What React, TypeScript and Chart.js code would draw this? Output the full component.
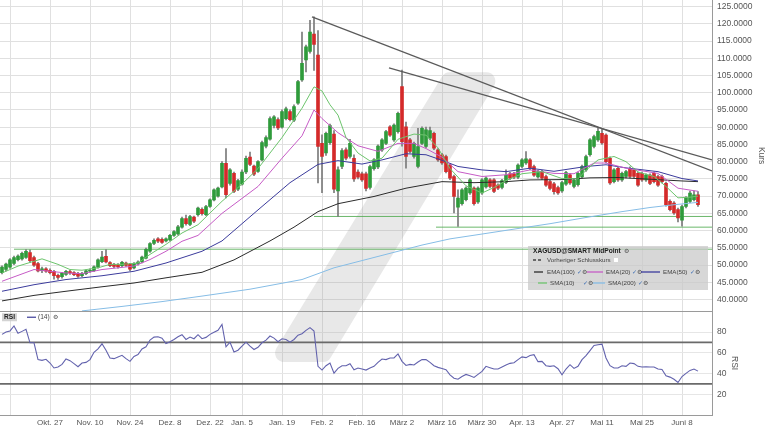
import React, { useEffect, useRef } from "react";
import { Chart, registerables } from "chart.js";

Chart.register(...registerables);

// ---- Candles (trading-day index 0 = 9 Oct) ----
const OPEN = [
  47.8, 48.7, 49.4, 50.5, 51.6, 51.8, 52.2, 53.6, 52.2, 50.4,
  48.4, 48.9, 48.5, 48.2, 47.0, 46.6, 47.3, 48.1, 47.8, 47.6,
  46.9, 47.5, 48.2, 48.4, 49.4, 51.0, 52.5, 50.7, 50.2, 50.1,
  49.8, 50.6, 50.2, 49.2, 50.3, 50.9, 52.0, 54.0, 56.3, 57.6,
  57.5, 57.0, 57.3, 58.6, 59.0, 61.0, 63.5, 61.8, 63.9, 64.6,
  66.2, 64.6, 67.0, 68.9, 70.0, 72.7, 79.5, 73.7, 76.6, 72.0,
  73.5, 77.0, 81.3, 78.7, 77.2, 80.5, 84.5, 86.5, 90.5, 92.2,
  90.0, 92.5, 94.5, 92.0, 97.0, 103.7, 109.5, 112.0, 117.0, 110.9,
  85.3, 82.5, 85.5, 88.0, 71.5, 78.6, 83.4, 81.5, 81.0, 77.0,
  76.5, 76.5, 72.5, 78.0, 78.5, 83.4, 85.3, 90.1, 86.3, 88.7,
  101.8, 90.1, 86.3, 81.5, 78.6, 85.3, 84.4, 86.8, 88.2, 83.4,
  82.0, 81.5, 79.1, 75.7, 66.8, 67.8, 69.0, 70.9, 72.3, 68.3,
  70.9, 72.7, 74.7, 74.7, 73.2, 72.5, 74.0, 76.5, 76.5, 75.5,
  78.6, 79.6, 80.5, 78.6, 75.6, 77.1, 75.7, 74.2, 73.6, 72.5,
  71.5, 73.5, 76.2, 72.8, 73.3, 75.6, 77.6, 82.0, 84.4, 86.3,
  88.2, 87.7, 81.0, 74.2, 78.1, 74.7, 75.7, 78.1, 77.6, 76.6,
  76.6, 74.7, 76.1, 76.6, 75.7, 75.7, 73.7, 68.5, 68.0, 66.1,
  63.0, 67.0, 68.5, 69.0, 70.4,
];
const HIGH = [
  49.8, 50.6, 51.9, 52.6, 53.0, 53.8, 54.5, 54.4, 52.6, 50.8,
  49.4, 49.3, 48.9, 48.5, 47.4, 47.9, 48.5, 48.5, 48.1, 47.9,
  47.9, 48.6, 48.9, 49.8, 51.8, 54.0, 54.5, 51.0, 50.5, 50.4,
  51.1, 50.9, 50.5, 50.7, 51.2, 52.6, 54.9, 56.5, 57.6, 58.0,
  57.9, 57.9, 58.9, 60.0, 61.5, 63.9, 64.5, 64.4, 64.2, 66.8,
  66.6, 67.3, 69.2, 72.1, 72.6, 80.0, 83.8, 78.0, 77.0, 74.9,
  77.6, 81.6, 82.8, 79.0, 80.3, 86.0, 87.5, 93.0, 93.4, 92.7,
  95.0, 95.8, 95.0, 96.5, 103.6, 117.6, 113.8, 121.0, 122.0, 118.0,
  87.8, 88.6, 90.9, 89.0, 78.5, 83.8, 84.0, 86.5, 82.0, 77.6,
  77.0, 77.0, 79.0, 80.9, 84.9, 86.7, 89.1, 90.5, 91.0, 94.4,
  106.6, 91.5, 86.8, 85.7, 89.7, 90.1, 90.0, 90.0, 88.6, 83.8,
  82.4, 81.9, 79.5, 76.1, 71.8, 72.2, 72.7, 75.1, 72.7, 72.7,
  75.1, 75.6, 75.1, 75.1, 73.6, 74.9, 77.6, 76.9, 76.9, 79.4,
  80.9, 82.9, 80.9, 79.0, 77.5, 77.5, 76.1, 74.6, 74.0, 72.9,
  74.3, 77.2, 76.6, 75.0, 77.0, 79.0, 81.9, 86.7, 87.7, 89.7,
  89.5, 88.1, 81.4, 78.0, 78.5, 77.0, 77.5, 78.5, 78.0, 77.0,
  77.0, 76.5, 76.5, 77.0, 76.1, 76.1, 74.1, 68.9, 68.4, 66.5,
  67.4, 69.9, 71.5, 71.5, 71.3,
];
const LOW = [
  47.4, 48.3, 49.0, 50.1, 51.2, 51.4, 51.9, 50.8, 49.6, 48.0,
  47.8, 47.9, 47.4, 45.9, 45.8, 46.2, 47.0, 47.3, 46.9, 46.4,
  46.6, 47.2, 47.9, 48.1, 49.1, 50.7, 50.6, 49.5, 49.2, 49.1,
  49.5, 49.6, 48.4, 48.9, 50.0, 50.6, 51.8, 53.7, 55.9, 56.5,
  56.3, 56.7, 57.0, 58.3, 58.7, 60.7, 61.6, 61.4, 62.3, 64.2,
  64.5, 64.3, 66.7, 68.6, 69.7, 72.4, 69.5, 73.2, 71.0, 71.6,
  73.2, 76.5, 78.8, 75.9, 76.9, 80.2, 84.0, 86.2, 89.8, 89.3,
  89.7, 92.1, 91.8, 91.6, 96.6, 103.3, 106.0, 111.5, 106.5, 73.8,
  71.0, 81.8, 85.0, 71.0, 64.1, 78.0, 80.5, 81.0, 74.3, 75.0,
  74.3, 71.5, 72.0, 77.5, 78.0, 83.0, 84.9, 87.3, 85.9, 88.3,
  84.5, 78.1, 82.5, 81.0, 78.2, 84.9, 84.0, 86.4, 83.5, 80.1,
  79.2, 76.7, 74.8, 65.1, 61.2, 67.4, 68.6, 70.5, 67.4, 67.9,
  70.5, 72.3, 72.4, 71.0, 71.9, 72.1, 73.6, 74.8, 75.1, 75.1,
  78.2, 79.2, 77.7, 75.7, 75.2, 74.8, 72.8, 71.8, 70.6, 70.5,
  71.1, 73.1, 73.4, 72.4, 72.9, 75.2, 77.2, 81.6, 84.0, 85.9,
  85.0, 79.6, 73.4, 73.8, 74.3, 74.3, 75.3, 75.3, 75.3, 72.8,
  74.3, 74.3, 73.3, 73.8, 72.8, 73.8, 67.1, 65.7, 64.7, 62.5,
  61.3, 66.6, 68.1, 68.6, 67.0,
];
const CLOSE = [
  49.4, 50.3, 51.5, 52.2, 52.6, 53.4, 54.0, 51.3, 50.0, 48.3,
  48.9, 48.2, 47.8, 46.9, 46.4, 47.6, 48.2, 47.7, 47.2, 46.8,
  47.6, 48.3, 48.5, 49.5, 51.5, 52.3, 50.9, 49.8, 49.6, 49.5,
  50.8, 49.9, 48.8, 50.4, 50.9, 52.3, 54.6, 56.2, 57.2, 56.9,
  56.6, 57.6, 58.6, 59.7, 61.1, 63.5, 62.0, 64.1, 62.7, 66.5,
  64.9, 67.0, 68.9, 71.8, 72.3, 79.5, 70.4, 77.6, 71.4, 74.5,
  77.0, 81.0, 79.2, 76.4, 80.0, 85.5, 87.0, 92.5, 93.0, 89.8,
  94.5, 95.3, 92.2, 96.0, 103.2, 108.5, 113.3, 117.6, 114.0, 84.4,
  81.5, 88.2, 90.5, 72.0, 77.6, 83.2, 81.0, 85.3, 75.0, 75.5,
  74.7, 72.2, 78.6, 80.5, 84.5, 86.3, 88.7, 87.7, 90.6, 94.0,
  85.8, 81.5, 83.0, 85.3, 84.4, 89.7, 89.2, 89.0, 83.9, 80.5,
  79.6, 77.1, 75.2, 69.9, 69.4, 71.8, 72.3, 74.7, 67.8, 72.3,
  74.7, 75.2, 72.8, 71.4, 72.3, 74.5, 76.0, 75.2, 75.5, 79.0,
  80.5, 80.8, 78.1, 76.1, 77.1, 75.2, 73.2, 72.2, 71.3, 70.9,
  73.9, 76.8, 73.8, 74.6, 76.6, 78.6, 81.5, 86.3, 87.3, 88.8,
  85.4, 80.0, 73.8, 77.6, 74.7, 76.6, 77.1, 75.7, 75.7, 73.2,
  74.7, 76.1, 73.7, 74.2, 73.2, 74.2, 67.5, 66.1, 65.1, 63.7,
  67.0, 69.5, 70.9, 70.4, 67.5,
];

// ---- RSI(14) ----
const RSI14 = [
  77.7, 80.0, 81.0, 85.8, 78.7, 80.6, 82.6, 69.6, 69.6, 53.4,
  52.7, 53.7, 50.1, 45.3, 46.2, 48.8, 54.0, 52.4, 49.5, 46.5,
  50.1, 50.7, 53.4, 60.5, 63.7, 68.6, 62.4, 54.9, 54.3, 55.9,
  57.5, 54.3, 51.7, 56.5, 58.2, 63.7, 65.7, 72.2, 75.1, 75.4,
  74.1, 68.9, 70.6, 72.8, 75.4, 77.4, 72.8, 75.1, 73.5, 77.4,
  73.5, 74.8, 77.7, 79.7, 81.6, 87.4, 65.7, 70.2, 60.8, 62.4,
  66.3, 70.2, 66.3, 63.1, 65.3, 69.6, 72.2, 76.1, 74.1, 70.6,
  73.5, 72.8, 70.2, 72.8, 77.0, 78.4, 81.6, 84.2, 81.0, 46.9,
  43.3, 47.5, 50.1, 40.4, 44.9, 47.5, 47.5, 49.5, 43.6, 45.3,
  44.3, 43.3, 45.3, 46.9, 50.7, 54.0, 53.4, 55.0, 55.0, 58.9,
  51.7, 47.8, 48.8, 48.2, 51.1, 53.4, 53.4, 50.7, 47.5, 45.9,
  44.9, 43.6, 38.7, 35.5, 34.5, 37.1, 39.1, 37.8, 36.2, 39.1,
  42.0, 46.9, 45.6, 44.3, 44.3, 46.2, 48.2, 49.8, 50.4, 53.4,
  56.0, 55.3, 57.3, 58.2, 51.4, 51.7, 47.5, 46.9, 47.5, 44.6,
  38.7, 44.3, 48.5, 44.9, 46.9, 53.4, 57.3, 62.1, 67.0, 67.7,
  68.3, 55.0, 47.5, 45.3, 45.3, 47.5, 46.9, 50.1, 49.5, 46.9,
  46.2, 46.5, 46.2, 46.2, 44.3, 43.9, 37.8, 36.5, 34.5, 31.3,
  37.1, 40.1, 43.0, 44.3, 42.3,
];

// ---- Moving averages, read as [dayIndex, value] ----
const SMA10 = [
  [0, 47.7], [4, 49.7], [8, 51.1], [10, 51.8], [14, 50.2], [17, 48.7], [20, 48.5], [24, 49.2],
  [27, 50.2], [30, 50.2], [34, 50.6], [37, 53.1], [41, 56.0], [45, 59.3], [49, 61.7], [55, 68.5],
  [60, 73.5], [64, 78.0], [70, 87.0], [75, 95.5], [78, 101.7], [80, 100.5], [82, 96.5], [84, 93.5],
  [86, 87.0], [89, 82.5], [92, 80.2], [95, 81.0], [99, 86.5], [103, 88.0], [106, 87.7], [109, 84.0],
  [112, 78.0], [116, 73.0], [120, 70.9], [123, 72.5], [126, 74.5], [130, 76.5], [135, 77.1], [140, 75.1],
  [144, 75.0], [146, 77.5], [149, 80.5], [153, 81.5], [156, 80.0], [159, 77.0], [163, 75.7], [166, 72.8],
  [169, 69.5], [172, 69.7], [174, 70.0],
];
const EMA20 = [
  [0, 45.3], [4, 47.0], [8, 48.7], [12, 48.2], [16, 47.7], [20, 47.5], [25, 48.7], [29, 49.2],
  [33, 49.7], [37, 51.6], [41, 54.0], [45, 56.9], [49, 58.6], [55, 65.0], [64, 72.8], [70, 81.0],
  [75, 87.5], [78, 95.0], [80, 92.5], [84, 88.4], [89, 84.6], [94, 83.0], [99, 85.3], [103, 85.3],
  [106, 83.8], [110, 81.3], [114, 77.1], [120, 75.7], [126, 76.2], [132, 77.6], [138, 76.6], [143, 76.5],
  [148, 79.6], [151, 79.6], [156, 78.1], [164, 76.6], [169, 72.3], [174, 71.4],
];
const EMA50 = [
  [0, 42.4], [8, 44.3], [16, 45.8], [25, 46.9], [33, 48.2], [41, 50.6], [50, 54.0], [55, 57.0],
  [64, 66.0], [72, 73.9], [79, 79.2], [84, 80.3], [90, 79.3], [95, 80.5], [101, 82.3], [106, 82.0],
  [110, 80.4], [114, 78.6], [120, 77.6], [126, 77.1], [132, 78.1], [138, 77.2], [146, 78.6], [151, 79.1],
  [156, 78.2], [164, 77.1], [170, 75.1], [174, 74.4],
];
const EMA100 = [
  [0, 39.6], [8, 41.2], [16, 42.4], [25, 43.7], [33, 44.8], [41, 46.3], [50, 47.9], [58, 51.5],
  [67, 57.0], [73, 61.0], [79, 65.5], [84, 67.8], [93, 69.9], [101, 72.3], [110, 74.2], [118, 73.9],
  [126, 74.2], [132, 74.7], [140, 74.8], [147, 75.3], [154, 75.4], [162, 74.9], [170, 74.4], [174, 74.2],
];
const SMA200 = [
  [20, 36.7], [30, 38.0], [40, 39.4], [50, 41.0], [62, 43.0], [75, 45.8], [83, 49.2], [95, 52.8],
  [105, 55.8], [112, 57.6], [120, 59.0], [129, 60.6], [137, 62.0], [146, 63.8], [155, 65.5], [162, 66.7],
  [168, 67.5], [174, 68.2],
];

// ---- Drawn levels ----
const SUPPORT_LEVELS = [
  [3, 54.6],
  [78, 64.1],
  [108.5, 61.0],
];
const TREND_LINES = [
  [[77.5, 122.0], [177.5, 77.3]],
  [[96.75, 107.2], [177.5, 80.5]],
];
const RSI_BANDS = [70, 30];

// ---- Axes ----
const X_TICKS = [2, 12, 22, 32, 42, 52, 60, 70, 80, 90, 100, 110, 120, 130, 140, 150, 160, 170];
const X_LABELS = ["", "Okt. 27", "Nov. 10", "Nov. 24", "Dez. 8", "Dez. 22", "Jan. 5", "Jan. 19", "Feb. 2",
  "Feb. 16", "März 2", "März 16", "März 30", "Apr. 13", "Apr. 27", "Mai 11", "Mai 25", "Juni 8"];
const X_MIN = -0.5;
const X_MAX = 177.5;
const PRICE_MIN = 36.6;
const PRICE_MAX = 126.9;
const PRICE_TICKS = [40, 45, 50, 55, 60, 65, 70, 75, 80, 85, 90, 95, 100, 105, 110, 115, 120, 125];
const RSI_TICKS = [20, 40, 60, 80];

const FONT = "'Liberation Sans', Arial, sans-serif";
const UP = "#2f9b3b";
const DOWN = "#d42a2a";

function roundedPoly(ctx, pts, r) {
  const n = pts.length;
  ctx.beginPath();
  const start = [(pts[n - 1][0] + pts[0][0]) / 2, (pts[n - 1][1] + pts[0][1]) / 2];
  ctx.moveTo(start[0], start[1]);
  for (let i = 0; i < n; i++) {
    const p = pts[i];
    const q = pts[(i + 1) % n];
    ctx.arcTo(p[0], p[1], q[0], q[1], r);
  }
  ctx.closePath();
}

const noPadV = (w) => (s) => {
  s.width = w;
  s.paddingTop = 0;
  s.paddingBottom = 0;
};

const decorPlugin = {
  id: "decor",
  beforeDatasetsDraw(chart) {
    const { ctx } = chart;
    const W = chart.width, H = chart.height;
    const shape = [[0.579, 0.167], [0.654, 0.167], [0.427, 0.838], [0.349, 0.838]].map(([fx, fy]) => [fx * W, fy * H]);
    ctx.save();
    ctx.fillStyle = "rgba(150,150,150,0.22)";
    roundedPoly(ctx, shape, 9);
    ctx.fill();
    ctx.restore();
  },
  afterDraw(chart) {
    const { ctx, chartArea: a } = chart;
    const yMain = chart.scales.y;
    const yR = chart.scales.yR;
    ctx.save();
    ctx.strokeStyle = "#9a9a9a";
    ctx.lineWidth = 1;
    ctx.beginPath();
    ctx.moveTo(a.left, Math.round(yMain.bottom) + 0.5);
    ctx.lineTo(a.right, Math.round(yMain.bottom) + 0.5);
    ctx.stroke();

    // RSI axis title
    ctx.save();
    ctx.translate(a.right + 22, (yR.top + yR.bottom) / 2);
    ctx.rotate(Math.PI / 2);
    ctx.font = `8.5px ${FONT}`;
    ctx.fillStyle = "#555";
    ctx.textAlign = "center";
    ctx.textBaseline = "middle";
    ctx.fillText("RSI", 0, 0);
    ctx.restore();

    // ---- legend box ----
    const lx = 528, ly = 246;
    ctx.fillStyle = "rgba(200,200,200,0.72)";
    ctx.fillRect(lx, ly, 180, 44);
    ctx.textBaseline = "middle";
    ctx.font = `bold 6.6px ${FONT}`;
    ctx.fillStyle = "#222";
    ctx.fillText("XAGUSD@SMART MidPoint", lx + 5, ly + 5);
    const wTitle = ctx.measureText("XAGUSD@SMART MidPoint").width;
    ctx.font = `6px ${FONT}`;
    ctx.fillStyle = "#555";
    ctx.fillText("⚙", lx + 8 + wTitle, ly + 5);

    const seg = (x1, x2, y, color, dash) => {
      ctx.save();
      ctx.strokeStyle = color;
      ctx.lineWidth = 1.3;
      if (dash) ctx.setLineDash(dash);
      ctx.beginPath();
      ctx.moveTo(x1, y);
      ctx.lineTo(x2, y);
      ctx.stroke();
      ctx.restore();
    };
    const item = (x1, x2, xt, xc, y, color, label) => {
      seg(x1, x2, y, color);
      ctx.font = `6.2px ${FONT}`;
      ctx.fillStyle = "#444";
      ctx.fillText(label, xt, y);
      ctx.fillStyle = "#3d6fb5";
      ctx.font = `5.5px ${FONT}`;
      ctx.fillText("✓", xc, y);
      ctx.fillStyle = "#555";
      ctx.fillText("⚙", xc + 5, y);
    };
    // row 2
    seg(lx + 5, lx + 15, ly + 14, "#444", [3, 2]);
    ctx.font = `6.2px ${FONT}`;
    ctx.fillStyle = "#444";
    ctx.fillText("Vorheriger Schlusskurs", lx + 19, ly + 14);
    ctx.fillStyle = "#fff";
    ctx.fillRect(lx + 86, ly + 12, 4, 4);
    // row 3
    const r3 = ly + 26;
    item(534, 543, 547, 577, r3, "#2b2b2b", "EMA(100)");
    item(587, 603, 606, 632, r3, "#c65bc6", "EMA(20)");
    item(641, 660, 663, 690, r3, "#3b3b9c", "EMA(50)");
    // row 4
    const r4 = ly + 37;
    item(538, 547, 550, 583, r4, "#6cc46c", "SMA(10)");
    item(593, 605, 608, 638, r4, "#86bde6", "SMA(200)");

    // ---- RSI legend ----
    const ry = yR.top + 6;
    ctx.fillStyle = "rgba(200,200,200,0.8)";
    ctx.fillRect(a.left + 2, ry - 4, 15, 8);
    ctx.font = `bold 6.6px ${FONT}`;
    ctx.fillStyle = "#222";
    ctx.fillText("RSI", a.left + 4, ry);
    seg(a.left + 27, a.left + 36, ry, "#4b4ba0");
    ctx.font = `6.6px ${FONT}`;
    ctx.fillStyle = "#444";
    ctx.fillText("(14)", a.left + 38, ry);
    ctx.font = `6px ${FONT}`;
    ctx.fillStyle = "#555";
    ctx.fillText("⚙", a.left + 53, ry);
    ctx.restore();
  },
};

export default function App() {
  const ref = useRef(null);

  useEffect(() => {
    const canvas = ref.current;
    if (!canvas) return;
    const days = OPEN.map((_, i) => i);
    const line = (pts, color, order, width = 1, yAxisID = "y") => ({
      type: "line",
      data: pts.map(([x, y]) => ({ x, y })),
      borderColor: color,
      borderWidth: width,
      pointRadius: 0,
      tension: 0,
      fill: false,
      yAxisID,
      order,
    });

    const datasets = [
      ...SUPPORT_LEVELS.map(([x0, v]) => line([[x0, v], [X_MAX, v]], "rgba(80,170,80,0.85)", 20)),
      {
        type: "bar",
        data: days.map((i) => ({ x: i, y: [LOW[i], HIGH[i]] })),
        backgroundColor: "#7a7a7a",
        barThickness: 1,
        grouped: false,
        yAxisID: "y",
        order: 12,
      },
      {
        type: "bar",
        data: days.map((i) => ({ x: i, y: [OPEN[i], CLOSE[i]] })),
        backgroundColor: days.map((i) => (CLOSE[i] >= OPEN[i] ? UP : DOWN)),
        barThickness: 3,
        minBarLength: 1,
        grouped: false,
        yAxisID: "y",
        order: 11,
      },
      line(SMA200, "#86bde6", 9),
      line(EMA100, "#2b2b2b", 8),
      line(EMA50, "#3b3b9c", 7),
      line(EMA20, "#c65bc6", 6),
      line(SMA10, "#6cc46c", 5),
      ...TREND_LINES.map((pts) => line(pts, "#5a5a5a", 4, 1.2)),
      ...RSI_BANDS.map((v) => line([[X_MIN, v], [X_MAX, v]], "#6a6a6a", 3, 1.6, "yR")),
      line(RSI14.map((v, i) => [i, v]), "#6262ad", 2, 1.1, "yR"),
    ];

    const tickFont = { family: FONT, size: 8.5 };
    const chart = new Chart(canvas, {
      type: "bar",
      data: { datasets },
      options: {
        animation: false,
        responsive: false,
        maintainAspectRatio: false,
        layout: { padding: 0 },
        plugins: { legend: { display: false }, tooltip: { enabled: false } },
        scales: {
          x: {
            type: "linear",
            min: X_MIN,
            max: X_MAX,
            offset: false,
            grid: { color: "#e0e0e0", drawTicks: false, offset: false },
            border: { display: true, color: "#9a9a9a" },
            afterBuildTicks: (s) => {
              s.ticks = X_TICKS.map((v) => ({ value: v }));
            },
            ticks: {
              autoSkip: false,
              maxRotation: 0,
              padding: 3,
              font: { family: FONT, size: 8 },
              color: "#555",
              callback: (v) => X_LABELS[X_TICKS.indexOf(v)] ?? "",
            },
            afterFit: (s) => {
              s.height = 17;
              s.paddingLeft = 0;
              s.paddingRight = 0;
            },
          },
          y: {
            type: "linear",
            position: "right",
            stack: "panels",
            stackWeight: 3,
            min: PRICE_MIN,
            max: PRICE_MAX,
            beginAtZero: false,
            grid: { color: "#e0e0e0", drawTicks: false },
            border: { display: true, color: "#9a9a9a" },
            afterBuildTicks: (s) => {
              s.ticks = PRICE_TICKS.map((v) => ({ value: v }));
            },
            ticks: {
              autoSkip: false,
              padding: 5,
              font: tickFont,
              color: "#555",
              callback: (v) => Number(v).toFixed(4),
            },
            title: { display: true, text: "Kurs", font: { family: FONT, size: 8.5 }, color: "#555", padding: { top: 2, bottom: 2 } },
            afterFit: noPadV(56),
          },
          yR: {
            type: "linear",
            position: "right",
            stack: "panels",
            stackWeight: 1,
            min: 0,
            max: 100,
            beginAtZero: false,
            grid: { color: "#e6e6e6", drawTicks: false },
            border: { display: true, color: "#9a9a9a" },
            afterBuildTicks: (s) => {
              s.ticks = RSI_TICKS.map((v) => ({ value: v }));
            },
            ticks: { autoSkip: false, padding: 5, font: tickFont, color: "#555" },
            title: { display: false },
            afterFit: noPadV(56),
          },
        },
      },
      plugins: [decorPlugin],
    });
    return () => chart.destroy();
  }, []);

  return (
    <div style={{ position: "fixed", left: 0, top: 0, width: 768, height: 432, background: "#fff" }}>
      <canvas ref={ref} width={768} height={432} style={{ display: "block", width: 768, height: 432 }} />
    </div>
  );
}
